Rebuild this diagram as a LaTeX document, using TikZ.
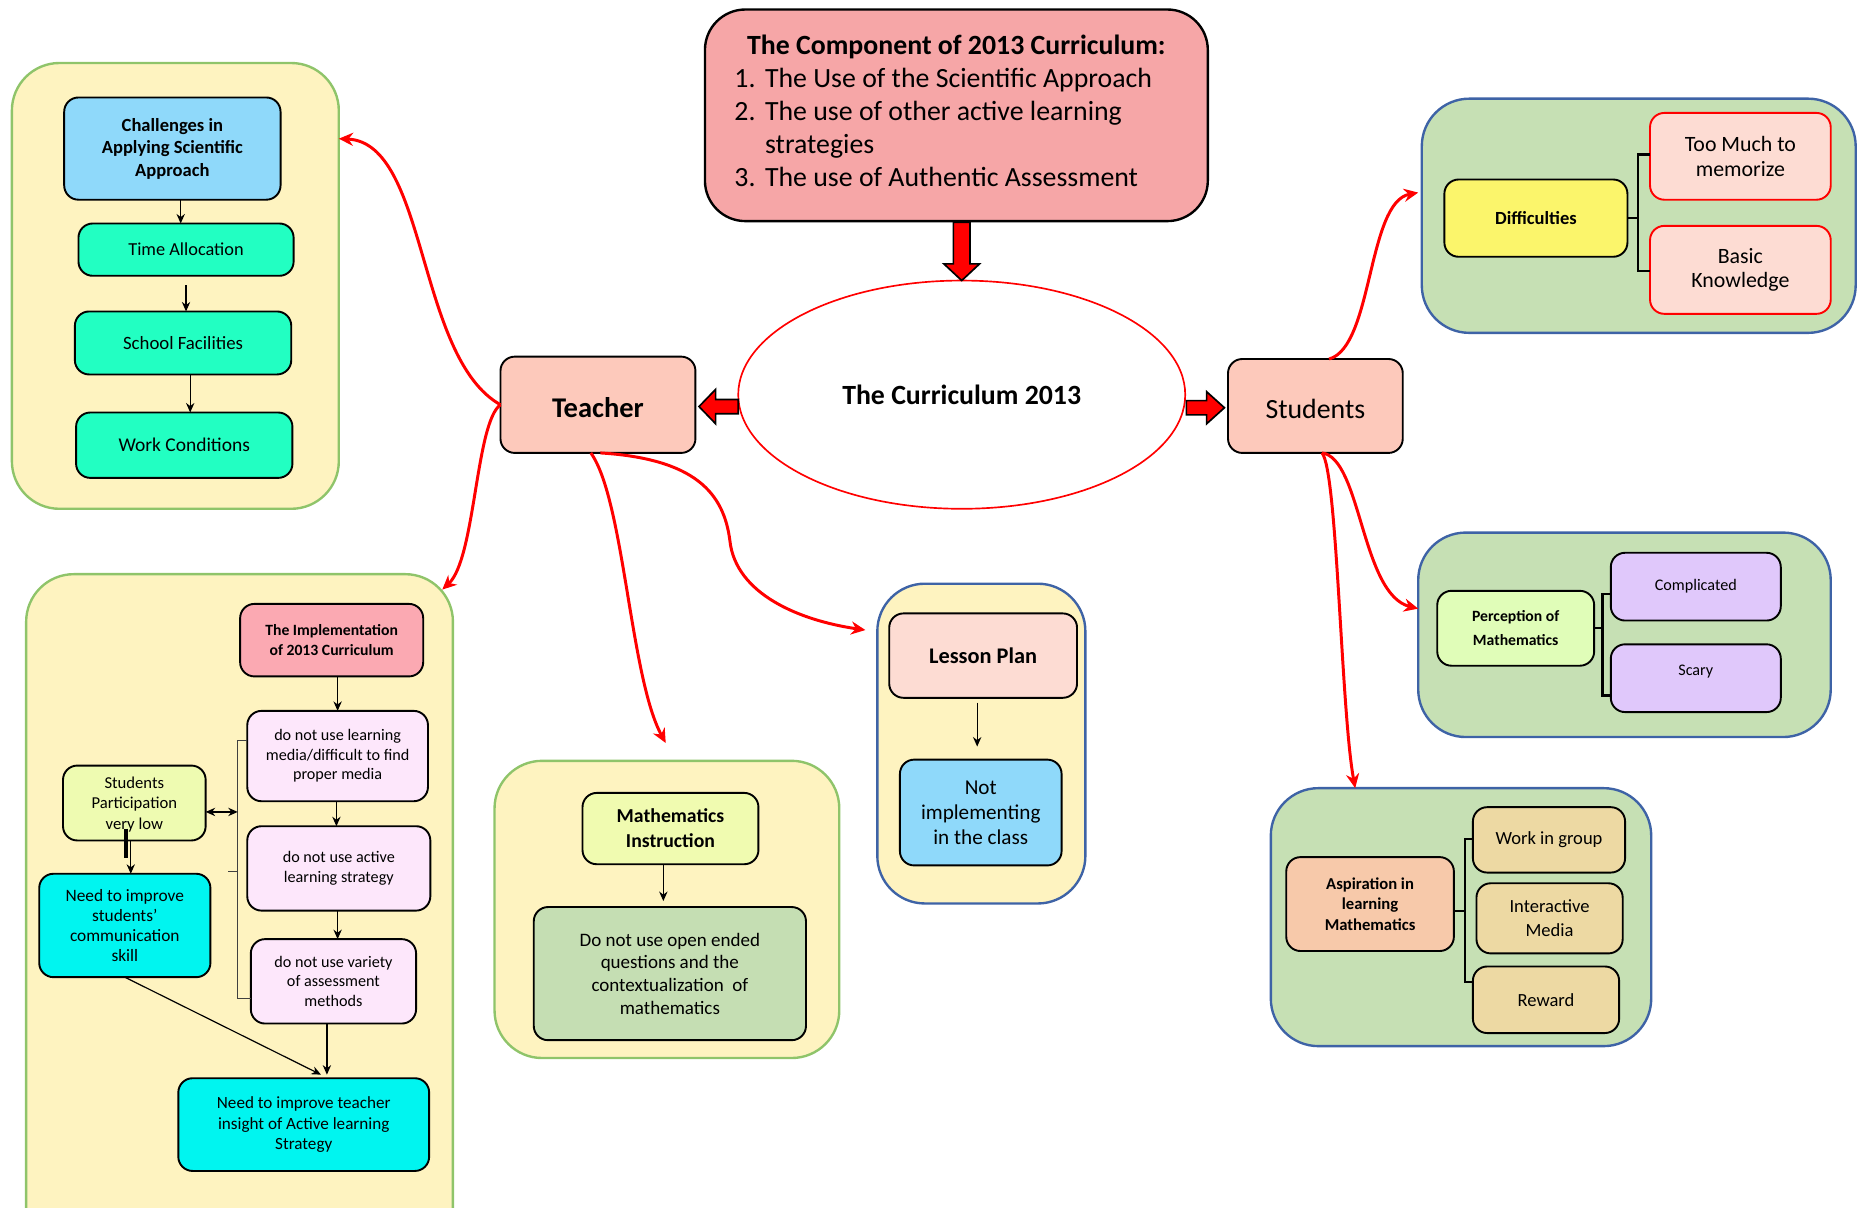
\documentclass[tikz,border=0pt]{standalone}
\usepackage{fontspec}
\setmainfont{Carlito}
\usetikzlibrary{arrows.meta,calc,shapes.geometric}
\definecolor{pyel}{HTML}{FEF3C0}
\definecolor{pgrn}{HTML}{8FC46A}
\definecolor{gfill}{HTML}{C6E0B4}
\definecolor{pblue}{HTML}{3E63A6}
\definecolor{topc}{HTML}{F6A6A7}
\definecolor{peach}{HTML}{FDC9BB}
\definecolor{cblue}{HTML}{8FD9FA}
\definecolor{aqua}{HTML}{22FFC2}
\definecolor{impk}{HTML}{FBA9B2}
\definecolor{lpink}{HTML}{FDE7FB}
\definecolor{spc}{HTML}{EEFBB1}
\definecolor{cyanc}{HTML}{00F5F0}
\definecolor{lpc}{HTML}{FDDCD3}
\definecolor{mic}{HTML}{F0FBB0}
\definecolor{dnc}{HTML}{C5DEB3}
\definecolor{dyel}{HTML}{FBF56B}
\definecolor{perc}{HTML}{E0FDB8}
\definecolor{lav}{HTML}{E0C8FB}
\definecolor{aspc}{HTML}{F7C9AA}
\definecolor{tanc}{HTML}{EDD9A3}
\definecolor{redc}{HTML}{FF0000}
\newcommand{\fsz}[2]{\fontsize{#1}{#2}\selectfont}
\newcommand{\bx}[7]{\node[#1, minimum width={(#5-#3)*0.5pt}, minimum height={(#6-#4)*0.5pt}] (#2) at ({(#3+#5)/2},{(#4+#6)/2}) {#7};}
\tikzset{
 panelY/.style={draw=pgrn, fill=pyel, line width=1pt, rounded corners=20pt, inner sep=0pt, outer sep=0pt},
 panelYB/.style={panelY, draw=pblue},
 panelG/.style={panelY, draw=pblue, fill=gfill},
 bxs/.style={draw=black, line width=0.8pt, rounded corners=6pt, align=center, inner sep=0pt, outer sep=0pt},
 arr/.style={draw=black, line width=0.5pt, -{Stealth[length=4pt,width=3.5pt]}},
 darr/.style={draw=black, line width=0.5pt, {Stealth[length=4pt,width=3.5pt]}-{Stealth[length=4pt,width=3.5pt]}},
 rarr/.style={draw=redc, line width=1.25pt, -{Stealth[length=6pt,width=5.5pt]}},
 blk/.style={draw=black, fill=redc, line width=0.7pt, line join=miter},
 brk/.style={draw=black, line width=0.9pt},
 thinbrk/.style={draw=black!75, line width=0.45pt},
}
\begin{document}
\begin{tikzpicture}[x=0.5pt,y=-0.5pt]
\useasboundingbox (0,0) rectangle (1568,1016);
\begin{scope}
\clip (0,0) rectangle (1568,1016);
% ---------- top left panel
\bx{panelY}{tlp}{10}{53}{285}{428}{}
\bx{bxs,fill=cblue,font=\fsz{7.8}{9.5}\bfseries}{chal}{54}{82}{236}{168}{Challenges in\\Applying Scientific\\Approach}
\bx{bxs,fill=aqua,font=\fsz{7.7}{9}}{time}{66}{188}{247}{232}{Time Allocation}
\bx{bxs,fill=aqua,font=\fsz{7.9}{9}}{school}{63}{262}{245}{315}{School Facilities}
\bx{bxs,fill=aqua,font=\fsz{8.2}{9}}{work}{64}{347}{246}{402}{Work Conditions}
\draw[arr] (chal.south -| 152,0) -- (time.north -| 152,0);
\draw[arr] ($(time.south)+(0,8)$) -- (school.north -| time.south);
\draw[arr] (school.south -| 160,0) -- (work.north -| 160,0);
% ---------- lower left panel
\bx{panelY}{llp}{22}{483}{381}{1060}{}
\bx{bxs,fill=impk,font=\fsz{6.6}{8.5}\bfseries}{impl}{202}{508}{356}{569}{The Implementation\\of 2013 Curriculum}
\bx{bxs,fill=lpink,font=\fsz{6.8}{8.25}}{lm}{208}{598}{360}{674}{do not use learning\\media/difficult to find\\proper media}
\bx{bxs,fill=lpink,font=\fsz{6.8}{8.25}}{act}{208}{695}{362}{766}{do not use active\\learning strategy}
\bx{bxs,fill=lpink,font=\fsz{6.8}{8.25}}{var}{211}{790}{350}{861}{do not use variety\\of assessment\\methods}
\bx{bxs,fill=spc,font=\fsz{7}{8.6},text depth=0pt}{sp}{53}{644}{173}{707}{Students\\Participation\\very low}
\bx{bxs,fill=cyanc,font=\fsz{7.3}{8.5}}{nis}{33}{735}{177}{822}{Need to improve\\students’\\communication\\skill}
\bx{bxs,fill=cyanc,font=\fsz{7.2}{8.8}}{nit}{150}{907}{361}{985}{Need to improve teacher\\insight of Active learning\\Strategy}
\draw[arr] (impl.south -| 284,0) -- (lm.north -| 284,0);
\draw[arr] (lm.south -| 283,0) -- (act.north -| 283,0);
\draw[arr] (act.south -| 284,0) -- (var.north -| 284,0);
\draw[arr] (var.south -| 275,0) -- ($(nit.north)+(19.5,-3)$);
\coordinate (brt) at (200,623);
\coordinate (brb) at (200,840);
\coordinate (brm) at (200,733);
\coordinate (brl) at (192,733);
\coordinate (bra) at (200,683);
\draw[thinbrk] (lm.west |- brt) -- (brt) -- (brb) -- (var.west |- brb);
\draw[thinbrk] (brm) -- (brl);
\draw[darr] (sp.east |- bra) -- (bra);
\draw[line width=1.4pt] ($(sp.south)+(-7,-10)$) -- ($(sp.south)+(-7,15)$);
\draw[arr] ($(sp.south)+(-3,0)$) -- (nis.north -| 110,0);
\draw[arr] (nis.south) -- ($(nit.north)+(14.5,-3)$);
% ---------- math panel
\bx{panelY}{mp}{416}{640}{706}{890}{}
\bx{bxs,fill=mic,font=\fsz{8.3}{10.5}\bfseries}{mi}{490}{667}{638}{727}{Mathematics\\Instruction}
\bx{bxs,fill=dnc,font=\fsz{8}{9.5}}{dn}{449}{763}{678}{875}{Do not use open ended\\questions and the\\contextualization\ \ of\\mathematics}
\draw[arr] (mi.south -| 558,0) -- ($(dn.north -| 558,0)+(0,-5)$);
% ---------- lesson plan panel
\bx{panelYB}{lpp}{738}{491}{913}{760}{}
\bx{bxs,fill=lpc,font=\fsz{9.4}{11}\bfseries}{lp}{748}{516}{906}{587}{Lesson Plan}
\bx{bxs,fill=cblue,font=\fsz{8.9}{10.5}}{ni}{757}{639}{893}{728}{Not\\implementing\\in the class}
\draw[arr] ($(lp.south -| 822,0)+(0,4)$) -- ($(ni.north -| 822,0)+(0,-11)$);
% ---------- right panels
\bx{panelG}{dp}{1196}{83}{1561}{280}{}
\bx{bxs,fill=dyel,font=\fsz{7.8}{9}\bfseries}{dif}{1215}{151}{1369}{216}{Difficulties}
\bx{bxs,draw=redc,fill=lpc,font=\fsz{9.2}{10.5}}{tm}{1388}{95}{1540}{168}{Too Much to\\memorize}
\bx{bxs,draw=redc,fill=lpc,font=\fsz{9.2}{10.5}}{bk}{1388}{190}{1540}{264}{Basic\\Knowledge}
\coordinate (db) at (1378,183.5);
\draw[brk] (dif.east) -- (db);
\draw[brk] (tm.west |- 0,130) -| (db) |- (bk.west |- 0,228);

\bx{panelG}{pp}{1193}{448}{1540}{620}{}
\bx{bxs,fill=perc,font=\fsz{6.6}{10}\bfseries}{per}{1209}{497}{1341}{560}{Perception of\\Mathematics}
\bx{bxs,fill=lav,font=\fsz{6.8}{9}}{cmpl}{1355}{465}{1498}{522}{Complicated}
\bx{bxs,fill=lav,font=\fsz{6.8}{9},text depth=7pt}{scary}{1355}{542}{1498}{599}{Scary}
\coordinate (pb) at (1348,528.5);
\draw[brk] (per.east) -- (pb);
\draw[brk] (cmpl.west |- 0,500) -| (pb) |- (scary.west |- 0,585);

\bx{panelG}{ap}{1069}{663}{1389}{880}{}
\bx{bxs,fill=aspc,font=\fsz{7}{8.6}\bfseries}{asp}{1082}{721}{1223}{800}{Aspiration in\\learning\\Mathematics}
\bx{bxs,fill=tanc,font=\fsz{7.8}{10}}{wig}{1239}{679}{1367}{734}{Work in group}
\bx{bxs,fill=tanc,font=\fsz{7.8}{10}}{im}{1242}{743}{1365}{802}{Interactive\\Media}
\bx{bxs,fill=tanc,font=\fsz{7.8}{10}}{rew}{1239}{813}{1362}{869}{Reward}
\coordinate (ab) at (1232,766);
\draw[brk] (asp.east |- ab) -- (ab);
\draw[brk] (wig.west |- 0,706) -| (ab) |- (rew.west |- 0,826);
% ---------- centre
\bx{bxs,rounded corners=17pt,line width=1pt,fill=topc,font=\fsz{11.7}{13.9}}{comp}{593}{8}{1016}{186}{{\bfseries The Component of 2013 Curriculum:}\\\hspace*{-11pt}\begin{tabular}[t]{@{}l@{\hspace{4pt}}l@{}}1. & The Use of the Scientific Approach\\2. & The use of other active learning\\ & strategies\\3. & The use of Authentic Assessment\end{tabular}}
\node[ellipse, draw=redc, line width=0.7pt, fill=white, minimum width=188pt, minimum height=96pt, inner sep=0pt, outer sep=0pt, font=\fsz{11.7}{13}\bfseries] (ell) at (809,332) {The Curriculum 2013};
\bx{bxs,fill=peach,font=\fsz{12}{14}\bfseries,text height=11pt}{teacher}{421}{300}{585}{381}{Teacher}
\bx{bxs,fill=peach,font=\fsz{11.7}{14},text height=10.5pt}{students}{1033}{302}{1180}{381}{Students}
% block arrows
\draw[blk] ($(comp.south -| ell.north)+(-7,1)$) -- ($(ell.north)+(-7,-14)$) -- ($(ell.north)+(-15,-14)$) -- (ell.north) -- ($(ell.north)+(15,-14)$) -- ($(ell.north)+(7,-14)$) -- ($(comp.south -| ell.north)+(7,1)$) -- cycle;
\coordinate (tl) at ($(teacher.east)+(3,1.5)$);
\draw[blk] (tl) -- ++(14,-14.5) -- ++(0,8.5) -- ++(19,0) -- ++(0,12) -- ++(-19,0) -- ++(0,8.5) -- cycle;
\coordinate (tr) at ($(students.west)+(-3,1.5)$);
\draw[blk] (tr) -- ++(-15,-13.5) -- ++(0,7.5) -- ++(-17,0) -- ++(0,12) -- ++(17,0) -- ++(0,7.5) -- cycle;
% red curved connectors
\draw[rarr] (teacher.west) .. controls +(-71,-40) and +(75,3) .. (tlp.42);
\draw[rarr] (teacher.west) .. controls +(-21,15) and +(28,-26) .. ($(llp.north east)+(-9,13)$);
\draw[rarr] ($(teacher.south)+(-6,0)$) .. controls +(28,39) and +(-30,-55) .. ($(mp.north)+(-1,-15)$);
\draw[rarr] ($(teacher.south)+(2,0)$) .. controls +(80,5) and +(-5,-40) .. (614,455) .. controls +(5,45) and +(-55,-8) .. ($(lpp.north west)+(-10,39)$);
\draw[rarr] ($(students.north)+(11.5,0)$) .. controls +(37,-10) and +(-43,8) .. ($(dp.west)+(-3,-19.5)$);
\draw[rarr] ($(students.south)+(5.5,0)$) .. controls +(33,4) and +(-48,-12) .. ($(pp.west)+(0,-22)$);
\draw[rarr] ($(students.south)+(5.5,0)$) .. controls +(13,14) and +(-12,-65) .. ($(ap.north)+(-89,0)$);
\end{scope}
\end{tikzpicture}
\end{document}
